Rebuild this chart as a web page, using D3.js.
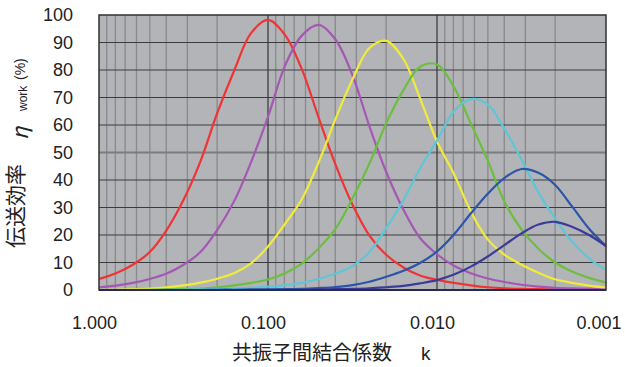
<!DOCTYPE html>
<html>
<head>
<meta charset="utf-8">
<script src="https://cdn.jsdelivr.net/npm/d3@7"></script>
<style>
  body { margin: 0; background: #fff; }
  text { font-family: "Liberation Sans", Arial, sans-serif; fill: #222; }
  .cjk { font-family: "Noto Sans CJK JP", sans-serif; }
</style>
</head>
<body>
<script>
// coupling coefficient k, one point every 0.1 decade from 1.000 down to 0.001
var kValues = [1.000, 0.794, 0.631, 0.501, 0.398, 0.316, 0.251, 0.200, 0.158, 0.126,
               0.100, 0.0794, 0.0631, 0.0501, 0.0398, 0.0316, 0.0251, 0.0200, 0.0158, 0.0126,
               0.0100, 0.00794, 0.00631, 0.00501, 0.00398, 0.00316, 0.00251, 0.00200, 0.00158, 0.00126,
               0.00100];

// efficiency (%), one array per curve
var redEff    = [4.0, 6.1, 9.2, 13.8, 21.8, 32.8, 46.8, 64.2, 80.0, 93.4, 98.2, 92.8, 80.3, 62.6, 45.5, 31.0, 19.8, 12.8, 8.2, 5.3, 3.7, 2.6, 1.7, 1.0, 0.6, 0.4, 0.3, 0.2, 0.2, 0.1, 0.1];
var purpleEff = [1.0, 1.6, 2.6, 4.0, 6.0, 9.2, 13.8, 21.8, 32.5, 46.5, 63.0, 81.5, 92.5, 96.4, 91.0, 78.0, 59.5, 43.0, 29.2, 18.9, 13.0, 8.8, 6.1, 4.2, 2.9, 1.9, 1.2, 0.8, 0.6, 0.5, 0.4];
var yellowEff = [0.0, 0.1, 0.2, 0.5, 1.0, 1.7, 2.7, 4.1, 6.2, 9.7, 15.8, 24.0, 33.0, 46.5, 62.3, 76.6, 88.0, 90.6, 84.0, 69.7, 54.0, 42.2, 28.6, 18.4, 12.8, 9.2, 6.3, 3.9, 2.6, 1.6, 0.9];
var greenEff  = [0.0, 0.0, 0.0, 0.1, 0.2, 0.3, 0.5, 1.0, 1.7, 2.6, 3.8, 6.1, 9.6, 15.2, 22.3, 33.4, 46.0, 60.6, 72.7, 81.2, 82.0, 73.8, 60.6, 47.1, 32.0, 22.0, 15.0, 10.0, 6.6, 4.4, 2.7];
var cyanEff   = [0.0, 0.0, 0.0, 0.0, 0.0, 0.1, 0.2, 0.3, 0.5, 0.8, 1.2, 1.8, 2.6, 4.0, 6.0, 8.7, 13.8, 22.5, 32.6, 44.3, 54.3, 65.0, 69.4, 67.5, 58.5, 47.4, 35.5, 26.0, 17.5, 11.5, 7.3];
var blueEff   = [0.0, 0.0, 0.0, 0.0, 0.0, 0.0, 0.0, 0.1, 0.1, 0.2, 0.2, 0.3, 0.4, 0.7, 1.1, 1.8, 3.0, 4.8, 7.0, 9.8, 14.0, 20.2, 27.8, 35.0, 40.8, 44.0, 42.6, 38.2, 30.2, 22.3, 16.0];
var navyEff   = [0.0, 0.0, 0.0, 0.0, 0.0, 0.0, 0.0, 0.0, 0.0, 0.0, 0.0, 0.0, 0.1, 0.2, 0.3, 0.4, 0.6, 1.0, 1.5, 2.4, 3.6, 5.6, 8.5, 12.2, 16.4, 20.6, 23.8, 24.8, 22.9, 20.0, 16.0];

var seriesList = [redEff, purpleEff, yellowEff, greenEff, cyanEff, blueEff, navyEff];
var seriesColors = ["#ef3434", "#a458b4", "#f0ec3a", "#6cbf3e", "#5ec6d6", "#2b55a8", "#3b3c98"];

var xTicks = [1, 0.1, 0.01, 0.001];
var xTickLabels = ["1.000", "0.100", "0.010", "0.001"];
var yTicks = [0, 10, 20, 30, 40, 50, 60, 70, 80, 90, 100];

// layout
var width = 625, height = 367;
var plot = {left: 99, right: 606, top: 15, bottom: 290};

var svg = d3.select("body").append("svg")
    .attr("width", width)
    .attr("height", height);

var xScale = d3.scaleLog()
    .domain([1, 0.001])
    .range([plot.left, plot.right]);

var yScale = d3.scaleLinear()
    .domain([0, 100])
    .range([plot.bottom, plot.top]);

// plot background
svg.append("rect")
    .attr("x", plot.left)
    .attr("y", plot.top)
    .attr("width", plot.right - plot.left)
    .attr("height", plot.bottom - plot.top)
    .style("fill", "#b3b4b8");

// minor vertical grid lines (2..9 of each decade)
var minorK = [];
[1, 0.1, 0.01].forEach(function(dec) {
  for (var m = 2; m <= 9; m++) minorK.push(dec * m / 10);
});
svg.append("g").selectAll("line")
    .data(minorK)
    .enter().append("line")
    .attr("x1", function(d) { return xScale(d); })
    .attr("x2", function(d) { return xScale(d); })
    .attr("y1", plot.top)
    .attr("y2", plot.bottom)
    .style("stroke", "#8a8a8c")
    .style("stroke-width", 1.3);

// horizontal grid lines
svg.append("g").selectAll("line")
    .data(yTicks.filter(function(d) { return d > 0 && d < 100; }))
    .enter().append("line")
    .attr("x1", plot.left)
    .attr("x2", plot.right)
    .attr("y1", function(d) { return yScale(d); })
    .attr("y2", function(d) { return yScale(d); })
    .style("stroke", function(d) { return d == 50 ? "#7c7c7e" : "#3c3c3e"; })
    .style("stroke-width", function(d) { return d == 50 ? 2 : 1.2; });

// decade vertical grid lines
svg.append("g").selectAll("line")
    .data([0.1, 0.01])
    .enter().append("line")
    .attr("x1", function(d) { return xScale(d); })
    .attr("x2", function(d) { return xScale(d); })
    .attr("y1", plot.top)
    .attr("y2", plot.bottom)
    .style("stroke", "#343436")
    .style("stroke-width", 1.2);

// curves
svg.append("clipPath").attr("id", "plotclip")
  .append("rect")
    .attr("x", plot.left)
    .attr("y", plot.top - 2)
    .attr("width", plot.right - plot.left)
    .attr("height", plot.bottom - plot.top + 2);

var line = d3.line()
    .x(function(d) { return xScale(d.k); })
    .y(function(d) { return yScale(d.eff); })
    .curve(d3.curveCatmullRom.alpha(0.5));

var curves = svg.append("g").attr("clip-path", "url(#plotclip)");
seriesList.forEach(function(series, i) {
  var pts = kValues.map(function(k, j) { return {k: k, eff: series[j]}; });
  curves.append("path")
      .datum(pts)
      .attr("d", line)
      .style("fill", "none")
      .style("stroke", seriesColors[i])
      .style("stroke-width", 2.2)
      .style("stroke-linejoin", "round");
});

// plot border
svg.append("rect")
    .attr("x", plot.left)
    .attr("y", plot.top)
    .attr("width", plot.right - plot.left)
    .attr("height", plot.bottom - plot.top)
    .style("fill", "none")
    .style("stroke", "#303032")
    .style("stroke-width", 1.5);

svg.append("line")
    .attr("x1", plot.left).attr("x2", plot.right)
    .attr("y1", plot.bottom).attr("y2", plot.bottom)
    .style("stroke", "#26285a")
    .style("stroke-width", 2);

// y tick labels
svg.append("g").selectAll("text")
    .data(yTicks)
    .enter().append("text")
    .attr("x", 73)
    .attr("y", function(d) { return yScale(d); })
    .attr("dy", "0.36em")
    .attr("text-anchor", "end")
    .style("font-size", "18px")
    .text(function(d) { return d; });

// x tick labels (sit slightly left of their grid lines, as in the original)
svg.append("g").selectAll("text")
    .data(xTicks)
    .enter().append("text")
    .attr("x", function(d, i) { return xScale(d) - (i == 3 ? 7 : 4.5); })
    .attr("y", 329)
    .attr("text-anchor", "middle")
    .style("font-size", "18px")
    .text(function(d, i) { return xTickLabels[i]; });

// x axis title
svg.append("text")
    .attr("class", "cjk")
    .attr("x", 232)
    .attr("y", 360)
    .style("font-size", "20px")
    .text("共振子間結合係数");
svg.append("text")
    .attr("x", 421)
    .attr("y", 360)
    .style("font-size", "19px")
    .text("k");

// y axis title, pieces placed along the rotated baseline
function yTitlePart(txt, pos, base, size, cls, italic) {
  var t = svg.append("text")
      .attr("transform", "translate(" + base + "," + pos + ")rotate(-90)")
      .style("font-size", size + "px")
      .text(txt);
  if (cls) t.attr("class", cls);
  if (italic) t.style("font-style", "italic");
}
yTitlePart("伝送効率", 248, 23, 21, "cjk", false);
yTitlePart("η", 140, 28, 22, "cjk", true);
yTitlePart("work", 111, 27, 12, null, false);
yTitlePart("(%)", 80, 25, 14, null, false);
</script>
</body>
</html>
